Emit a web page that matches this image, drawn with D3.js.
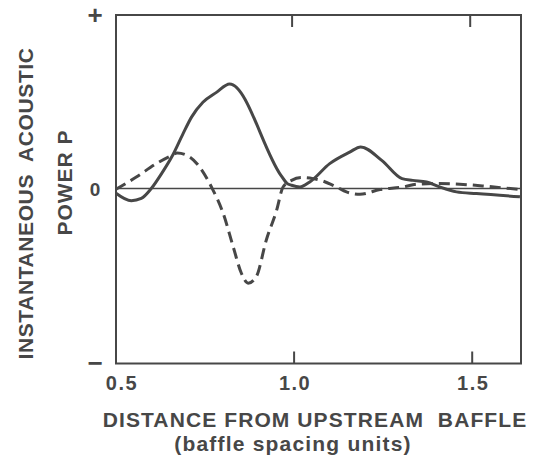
<!DOCTYPE html>
<html>
<head>
<meta charset="utf-8">
<script src="https://cdn.jsdelivr.net/npm/d3@7"></script>
<style>
  body { margin: 0; background: #fff; }
  text { font-family: "Liberation Sans", Arial, Helvetica, sans-serif; font-weight: bold; fill: #474747; }
</style>
</head>
<body>
<svg id="chart" width="544" height="463"></svg>
<script>
var width = 544, height = 463;
var ink = "#474747";

// distance from upstream baffle (baffle spacing units)
var solidX = [0.500, 0.543, 0.571, 0.599, 0.628, 0.659, 0.688, 0.712, 0.744, 0.782, 0.819,
              0.963, 0.980, 0.993, 1.016, 1.044, 1.100, 1.156, 1.187, 1.246, 1.303,
              1.333, 1.372, 1.409, 1.456, 1.512, 1.634];
var solidP = [-0.023, -0.066, -0.053, 0.004, 0.090, 0.195, 0.318, 0.414, 0.499, 0.556, 0.604,
              0.080, 0.034, 0.023, 0.013, 0.042, 0.147, 0.213, 0.243, 0.166, 0.061,
              0.051, 0.042, 0.013, -0.015, -0.025, -0.043];

var dashX = [0.500, 0.557, 0.613, 0.651, 0.672, 0.707, 0.735, 0.768, 0.801, 0.829, 0.852,
             0.871, 0.894, 0.922, 0.951, 0.969, 0.993, 1.021, 1.053, 1.081, 1.119,
             1.147, 1.185, 1.241, 1.306, 1.344, 1.400, 1.465, 1.540, 1.634];
var dashP = [0.000, 0.070, 0.147, 0.189, 0.208, 0.185, 0.127, 0.013, -0.139, -0.330, -0.482,
             -0.539, -0.501, -0.291, -0.120, 0.013, 0.051, 0.067, 0.061, 0.047, 0.013,
             -0.015, -0.029, -0.002, 0.013, 0.029, 0.033, 0.029, 0.017, -0.002];

var xTicks = [1.0, 1.5];
var xTickLabels = ["0.5", "1.0", "1.5"];
var xTickLabelVals = [0.5, 1.0, 1.5];
var yMarks = ["+", "0", "\u2212"];
var yMarkVals = [1, 0, -1];

var svg = d3.select("#chart");

var x = d3.scaleLinear().domain([0.5, 1.637]).range([116, 521]);
var y = d3.scaleLinear().domain([-1, 1]).range([363.5, 15]);

var g = svg.append("g");

// frame
g.append("rect")
	.attr("x", x(0.5))
	.attr("y", y(1))
	.attr("width", x(1.637) - x(0.5))
	.attr("height", y(-1) - y(1))
	.attr("fill", "none")
	.attr("stroke", ink)
	.attr("stroke-width", 2);

// tick marks, bottom and top, pointing inward
g.selectAll(".tick-b")
	.data(xTicks)
	.enter().append("line")
		.attr("x1", function(d) { return x(d); })
		.attr("x2", function(d) { return x(d); })
		.attr("y1", y(-1))
		.attr("y2", y(-1) - 12)
		.attr("stroke", ink)
		.attr("stroke-width", 2);

g.selectAll(".tick-t")
	.data(xTicks)
	.enter().append("line")
		.attr("x1", function(d) { return x(d) - 2; })
		.attr("x2", function(d) { return x(d) - 2; })
		.attr("y1", y(1))
		.attr("y2", y(1) + 12)
		.attr("stroke", ink)
		.attr("stroke-width", 2);

// zero line
g.append("line")
	.attr("x1", x(0.5))
	.attr("x2", x(1.637))
	.attr("y1", y(0) - 0.8)
	.attr("y2", y(0) - 0.8)
	.attr("stroke", ink)
	.attr("stroke-width", 1.5);

var line = d3.line()
	.x(function(d) { return x(d[0]); })
	.y(function(d) { return y(d[1]); })
	.curve(d3.curveMonotoneX);

g.append("path")
	.datum(d3.zip(dashX, dashP))
	.attr("d", line)
	.attr("fill", "none")
	.attr("stroke", ink)
	.attr("stroke-width", 3)
	.attr("stroke-dasharray", "11,6");

g.append("path")
	.datum(d3.zip(solidX, solidP))
	.attr("d", line)
	.attr("fill", "none")
	.attr("stroke", ink)
	.attr("stroke-width", 3)
	.attr("stroke-linejoin", "round");

// x tick labels
g.selectAll(".xlab")
	.data(xTickLabelVals)
	.enter().append("text")
		.attr("x", function(d) { return x(d) + (d === 0.5 ? 6 : 1); })
		.attr("y", 390)
		.attr("text-anchor", "middle")
		.style("font-size", "20px")
		.style("letter-spacing", "1.5px")
		.text(function(d, i) { return xTickLabels[i]; });

// + 0 - marks on the left
g.selectAll(".ylab")
	.data(yMarkVals)
	.enter().append("text")
		.attr("x", 95)
		.attr("y", function(d) { return y(d); })
		.attr("dy", function(d) { return d === 0 ? "0.36em" : "0.33em"; })
		.attr("text-anchor", "middle")
		.style("font-size", function(d) { return d === 0 ? "19px" : "26px"; })
		.text(function(d, i) { return yMarks[i]; });

// axis titles
g.append("text")
	.attr("x", 315)
	.attr("y", 427)
	.attr("text-anchor", "middle")
	.style("font-size", "21px")
	.style("letter-spacing", "1.1px")
	.style("white-space", "pre")
	.text("DISTANCE FROM UPSTREAM  BAFFLE");

g.append("text")
	.attr("x", 293)
	.attr("y", 451)
	.attr("text-anchor", "middle")
	.style("font-size", "21px")
	.style("letter-spacing", "1.2px")
	.text("(baffle spacing units)");

g.append("text")
	.attr("transform", "translate(33, 203.5) rotate(-90)")
	.attr("text-anchor", "middle")
	.style("font-size", "21px")
	.style("letter-spacing", "0.6px")
	.style("white-space", "pre")
	.text("INSTANTANEOUS  ACOUSTIC");

g.append("text")
	.attr("transform", "translate(71.5, 182.5) rotate(-90)")
	.attr("text-anchor", "middle")
	.style("font-size", "21px")
	.style("letter-spacing", "1px")
	.text("POWER P");
</script>
</body>
</html>
